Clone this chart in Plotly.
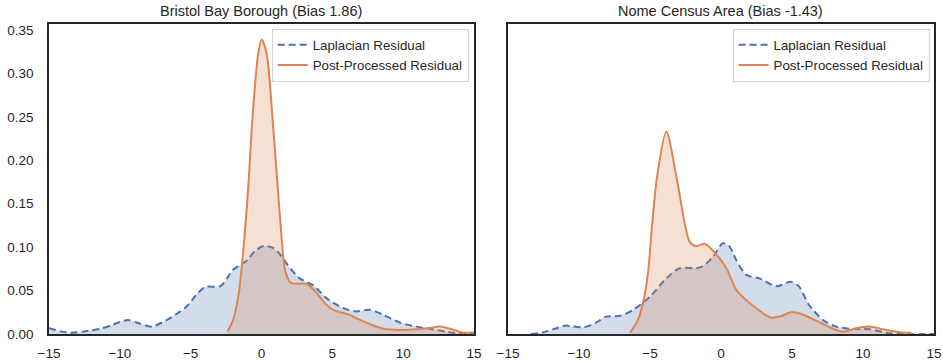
import plotly.graph_objects as go

# ---- data ----
titles = ["Bristol Bay Borough (Bias 1.86)", "Nome Census Area (Bias -1.43)"]
series_names = ["Laplacian Residual", "Post-Processed Residual"]

bristol_lap_x = [-15, -14.8, -14.2, -13.4, -12.5, -11.4, -10.6, -10, -9.4, -8.6, -7.75, -6.7, -6, -5.3, -4.6, -4,
                 -2.9, -2.4, -2, -1, -0.5, 0.13, 0.84, 1.3, 1.78, 2.7, 3.66, 4.6, 5.8, 6.7, 7.66, 8.6, 9.8, 10.95,
                 12.1, 13.5, 14.5, 15]
bristol_lap_y = [0.0065, 0.0058, 0.003, 0.0015, 0.003, 0.006, 0.010, 0.014, 0.016, 0.012, 0.0085, 0.016, 0.023,
                 0.0315, 0.045, 0.054, 0.055, 0.065, 0.074, 0.085, 0.095, 0.1014, 0.099, 0.092, 0.081, 0.064, 0.056,
                 0.041, 0.0296, 0.026, 0.028, 0.022, 0.013, 0.0085, 0.0054, 0.0015, 0.0003, 0.0]

bristol_post_x = [-2.4, -2.0, -1.6, -1.28, -0.93, -0.65, -0.23, 0.01, 0.36, 0.79, 1.14, 1.45, 1.66, 2.0, 2.25, 3.2,
                  3.8, 4.5, 5.1, 6.2, 7.4, 8.6, 9.8, 11, 11.9, 12.6, 13.3, 14.25, 15]
bristol_post_y = [0.003, 0.016, 0.047, 0.097, 0.17, 0.246, 0.323, 0.339, 0.323, 0.246, 0.17, 0.105, 0.074, 0.060,
                  0.058, 0.0576, 0.049, 0.035, 0.0276, 0.022, 0.013, 0.006, 0.0046, 0.0054, 0.007, 0.0085, 0.006,
                  0.0015, 0.002]

nome_lap_x = [-13.4, -12.5, -11.7, -11, -9.7, -8.8, -8.1, -7.1, -6.2, -5.0, -3.85, -2.9, -1.74, -1.27, -0.56, 0.14,
              0.6, 1.08, 1.78, 2.72, 3.9, 4.95, 5.5, 6.2, 7.2, 8.1, 9.3, 10.5, 11.6, 12.4, 15]
nome_lap_y = [0.0, 0.002, 0.006, 0.0096, 0.0077, 0.013, 0.02, 0.021, 0.0276, 0.043, 0.064, 0.0757, 0.0757, 0.078,
              0.089, 0.1045, 0.1006, 0.085, 0.068, 0.064, 0.055, 0.06, 0.0545, 0.0334, 0.016, 0.0085, 0.0058, 0.0054,
              0.0015, 0.0, 0.0]

nome_post_x = [-6.4, -5.85, -5.5, -5.14, -4.86, -4.5, -3.85, -3.14, -2.51, -2.2, -1.74, -1.15, -0.8, -0.2, 0.38,
               1.08, 1.78, 2.5, 3.5, 4.25, 4.95, 5.5, 6.7, 7.65, 8.6, 9.5, 10.45, 11.4, 12.6, 13.4]
nome_post_y = [0.0015, 0.016, 0.035, 0.07, 0.124, 0.181, 0.233, 0.181, 0.124, 0.106, 0.101, 0.104, 0.1, 0.089,
               0.0757, 0.0507, 0.039, 0.0296, 0.019, 0.0207, 0.025, 0.0238, 0.0154, 0.0077, 0.0027, 0.0065, 0.0085,
               0.0054, 0.002, 0.0015]

x_ticks = [-15, -10, -5, 0, 5, 10, 15]
x_tick_text = ["\u221215", "\u221210", "\u22125", "0", "5", "10", "15"]
y_ticks = [0.0, 0.05, 0.10, 0.15, 0.20, 0.25, 0.30, 0.35]
y_tick_text = ["0.00", "0.05", "0.10", "0.15", "0.20", "0.25", "0.30", "0.35"]

BLUE = "#4C72B0"
ORANGE = "#DD8452"
BLUE_FILL = "rgba(76,114,176,0.25)"
ORANGE_FILL = "rgba(221,132,82,0.25)"
TXT = "#262626"
FONT = "Liberation Sans, Arial, sans-serif"
DASH = "7px,4px"

fig = go.Figure()

panels = [
    ("x", "y", "legend", bristol_lap_x, bristol_lap_y, bristol_post_x, bristol_post_y),
    ("x2", "y2", "legend2", nome_lap_x, nome_lap_y, nome_post_x, nome_post_y),
]
for xa, ya, lg, lx, ly, px, py in panels:
    fig.add_trace(go.Scatter(x=lx, y=ly, xaxis=xa, yaxis=ya, mode="lines", fill="tozeroy",
                             fillcolor=BLUE_FILL, line=dict(color=BLUE, width=2, dash=DASH,
                                                            shape="spline", smoothing=0.8),
                             showlegend=False, hoverinfo="skip"))
    fig.add_trace(go.Scatter(x=px, y=py, xaxis=xa, yaxis=ya, mode="lines", fill="tozeroy",
                             fillcolor=ORANGE_FILL, line=dict(color=ORANGE, width=2,
                                                              shape="spline", smoothing=0.8),
                             showlegend=False, hoverinfo="skip"))
    fig.add_trace(go.Scatter(x=[None], y=[None], xaxis=xa, yaxis=ya, mode="lines", name=series_names[0],
                             line=dict(color=BLUE, width=2, dash=DASH), legend=lg))
    fig.add_trace(go.Scatter(x=[None], y=[None], xaxis=xa, yaxis=ya, mode="lines", name=series_names[1],
                             line=dict(color=ORANGE, width=2), legend=lg))

axis_common = dict(showline=True, mirror=True, linecolor=TXT, linewidth=1.5, showgrid=False, zeroline=False,
                   ticks="", automargin=False, tickfont=dict(size=13.5, color=TXT, family=FONT))

fig.update_layout(
    width=943, height=362,
    margin=dict(l=49, r=9, t=24, b=28, autoexpand=False),
    paper_bgcolor="white", plot_bgcolor="white",
    font=dict(family=FONT, size=13, color=TXT),
    xaxis=dict(domain=[0, 0.4802], range=[-15, 15], tickvals=x_ticks, ticktext=x_tick_text,
               ticklabelstandoff=6, **axis_common),
    xaxis2=dict(domain=[0.5186, 1], range=[-15, 15], tickvals=x_ticks, ticktext=x_tick_text,
                ticklabelstandoff=6, **axis_common),
    yaxis=dict(range=[0, 0.3569], tickvals=y_ticks, ticktext=y_tick_text, ticklabelstandoff=11,
               **axis_common),
    yaxis2=dict(range=[0, 0.3569], anchor="x2", showticklabels=False, **axis_common),
    legend=dict(x=0.4802 - 0.006, xanchor="right", y=0.985, yanchor="top", xref="paper", yref="paper",
                bgcolor="rgba(255,255,255,0.8)", bordercolor="#d0d0d0", borderwidth=1,
                font=dict(size=13.3, color=TXT, family=FONT), tracegroupgap=0),
    legend2=dict(x=0.995, xanchor="right", y=0.985, yanchor="top", xref="paper", yref="paper",
                 bgcolor="rgba(255,255,255,0.8)", bordercolor="#d0d0d0", borderwidth=1,
                 font=dict(size=13.3, color=TXT, family=FONT), tracegroupgap=0),
    annotations=[
        dict(text=titles[0], x=0.2401, y=1, xref="paper", yref="paper", xanchor="center", yanchor="bottom",
             yshift=3, showarrow=False, font=dict(size=14.5, color=TXT, family=FONT)),
        dict(text=titles[1], x=0.7593, y=1, xref="paper", yref="paper", xanchor="center", yanchor="bottom",
             yshift=3, showarrow=False, font=dict(size=14.5, color=TXT, family=FONT)),
    ],
)

fig.write_html("out.html", config={"displayModeBar": False},
               post_script="document.body.style.margin='0px';")
